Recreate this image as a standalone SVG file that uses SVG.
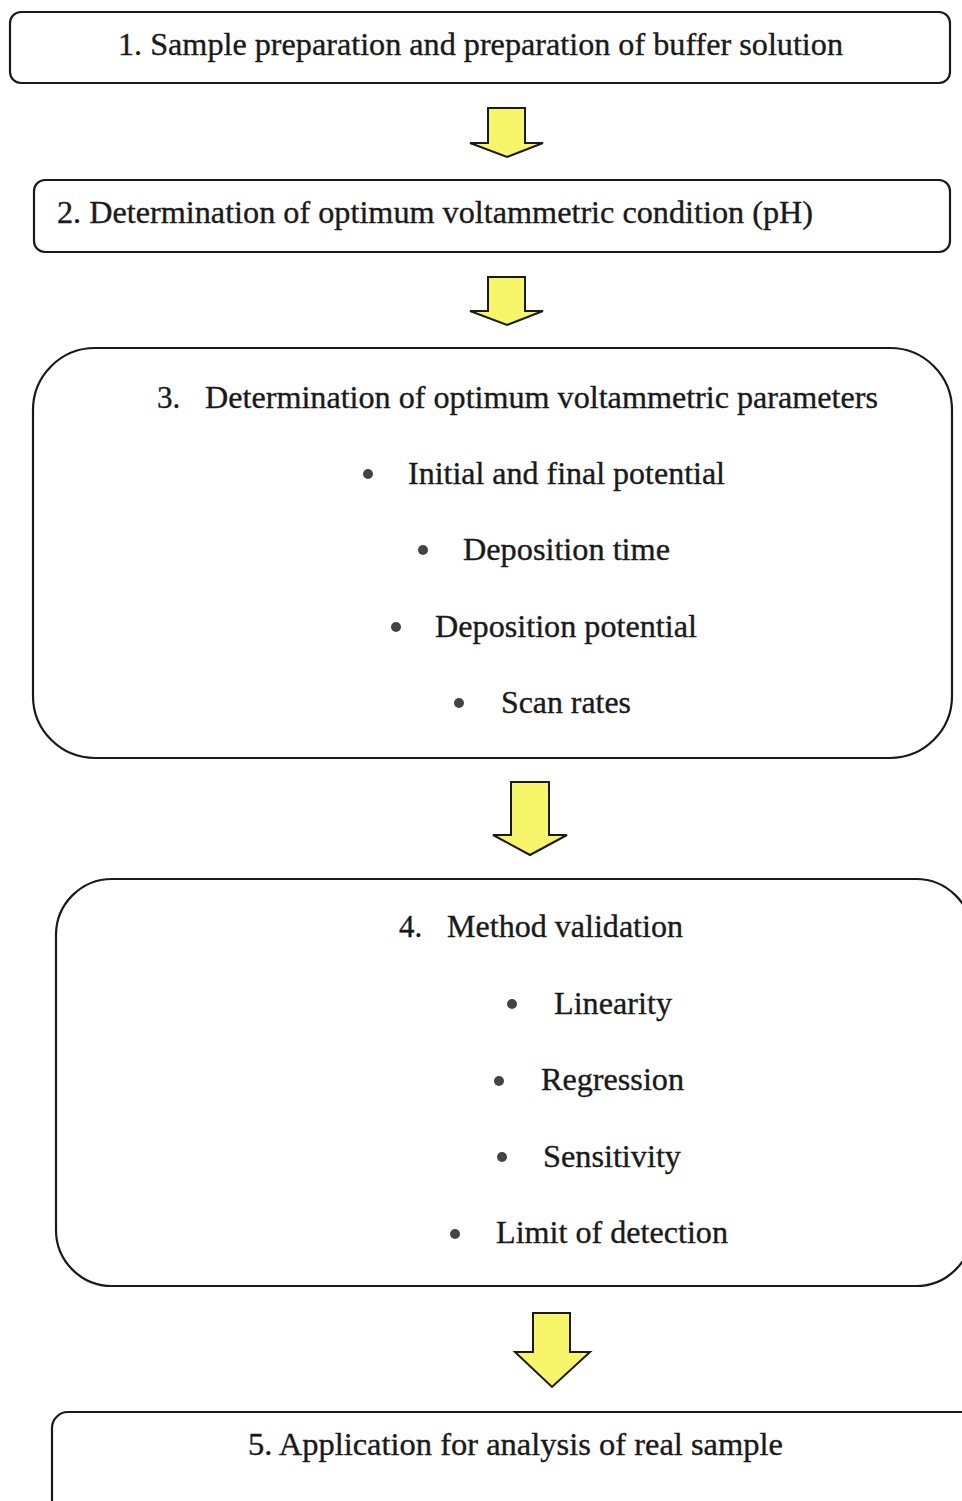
<svg xmlns="http://www.w3.org/2000/svg" width="962" height="1501" viewBox="0 0 962 1501">
<style>
.box{fill:#fff;stroke:#1a1a1a;stroke-width:2.2}
.arr{fill:#f7f56a;stroke:#1a1a1a;stroke-width:2;stroke-linejoin:miter}
.t{font-family:"Liberation Serif","Times New Roman",serif;font-size:31px;fill:#1a1a1a;stroke:#1a1a1a;stroke-width:0.35}
.b{fill:#444}
</style>
<rect width="962" height="1501" fill="#fff"/>
<g id="connectors">
<polygon class="arr" points="488,108 525,108 525,143 543,143 507,157 470,143 488,143"/>
<polygon class="arr" points="488,277 525,277 525,311 543,311 507,325 470,311 488,311"/>
<polygon class="arr" points="511,782 549,782 549,835 567,835 530,855 493,835 511,835"/>
<polygon class="arr" points="533,1313 570,1313 570,1352 590,1352 552,1387 515,1352 533,1352"/>
</g>
<g id="node1">
<rect class="box" x="10" y="12" width="940" height="71" rx="11"/>
<text class="t" x="118" y="55" textLength="725" lengthAdjust="spacingAndGlyphs">1. Sample preparation and preparation of buffer solution</text>
</g>
<g id="node2">
<rect class="box" x="34" y="180" width="916" height="72" rx="11"/>
<text class="t" x="57" y="223" textLength="756" lengthAdjust="spacingAndGlyphs">2. Determination of optimum voltammetric condition (pH)</text>
</g>
<g id="node3">
<rect class="box" x="33" y="348" width="919" height="410" rx="62"/>
<text class="t" x="157" y="408">3.</text>
<text class="t" x="205" y="408" textLength="673" lengthAdjust="spacingAndGlyphs">Determination of optimum voltammetric parameters</text>
<circle class="b" cx="368" cy="474" r="5"/>
<text class="t" x="408" y="484" textLength="317" lengthAdjust="spacingAndGlyphs">Initial and final potential</text>
<circle class="b" cx="423" cy="550" r="5"/>
<text class="t" x="463" y="560" textLength="207" lengthAdjust="spacingAndGlyphs">Deposition time</text>
<circle class="b" cx="396" cy="627" r="5"/>
<text class="t" x="435" y="637" textLength="262" lengthAdjust="spacingAndGlyphs">Deposition potential</text>
<circle class="b" cx="459" cy="703" r="5"/>
<text class="t" x="501" y="713" textLength="130" lengthAdjust="spacingAndGlyphs">Scan rates</text>
</g>
<g id="node4">
<rect class="box" x="56" y="879" width="916" height="407" rx="56"/>
<text class="t" x="399" y="937">4.</text>
<text class="t" x="447" y="937" textLength="236" lengthAdjust="spacingAndGlyphs">Method validation</text>
<circle class="b" cx="512" cy="1004" r="5"/>
<text class="t" x="554" y="1014" textLength="118" lengthAdjust="spacingAndGlyphs">Linearity</text>
<circle class="b" cx="499" cy="1081" r="5"/>
<text class="t" x="541" y="1090" textLength="143" lengthAdjust="spacingAndGlyphs">Regression</text>
<circle class="b" cx="502" cy="1157" r="5"/>
<text class="t" x="543" y="1167" textLength="138" lengthAdjust="spacingAndGlyphs">Sensitivity</text>
<circle class="b" cx="455" cy="1234" r="5"/>
<text class="t" x="496" y="1243" textLength="232" lengthAdjust="spacingAndGlyphs">Limit of detection</text>
</g>
<g id="node5">
<rect class="box" x="52" y="1412" width="940" height="140" rx="16"/>
<text class="t" x="248" y="1455" textLength="535" lengthAdjust="spacingAndGlyphs">5. Application for analysis of real sample</text>
</g>
</svg>
